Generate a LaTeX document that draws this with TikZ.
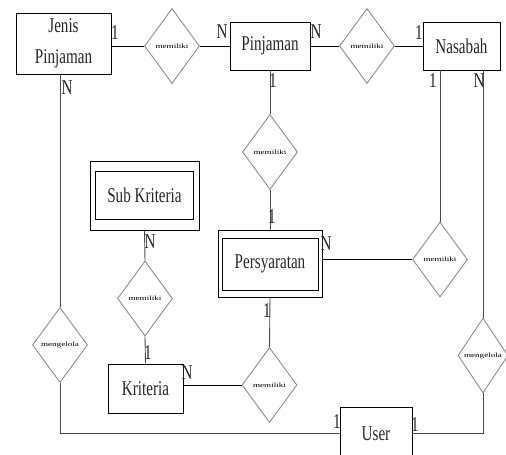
\documentclass[tikz,border=0pt]{standalone}
\usepackage{fontspec}
\usetikzlibrary{shapes.geometric}
\newfontfamily\erfont[FakeStretch=0.72]{Liberation Serif}
\newfontfamily\relfont[FakeStretch=1.4]{Liberation Serif}
\begin{document}
\begin{tikzpicture}[x=1pt,y=-1pt,
  entity/.style={draw=black,line width=0.9pt,fill=white,minimum width=#1,inner sep=0pt,
    font=\erfont\fontsize{21}{31}\selectfont,align=center,text=black!85},
  weak/.style={draw=black,line width=0.9pt,inner sep=0pt,minimum width=#1,
    font=\erfont\fontsize{21}{31}\selectfont,text=black!85},
  rel/.style={diamond,draw=black!45,line width=0.9pt,fill=white,inner sep=0pt,
    minimum width=55pt,minimum height=75pt,aspect=0.73,
    font=\relfont\fontsize{6.5}{7}\selectfont},
  link/.style={draw=black!70,line width=0.9pt},
  card/.style={font=\erfont\fontsize{21}{21}\selectfont,inner sep=0pt,text=black!85}]
\useasboundingbox (0,0) rectangle (506,455);

% entities
\node[entity=95pt,minimum height=61pt] (jp) at (63.5,43.5) {Jenis\\Pinjaman};
\node[entity=80pt,minimum height=48pt] (pj) at (270,46) {Pinjaman};
\node[entity=77pt,minimum height=48pt] (ns) at (461.5,46) {Nasabah};
\node[entity=75pt,minimum height=49pt] (kr) at (145.5,388.5) {Kriteria};
\node[entity=72pt,minimum height=53pt] (us) at (376,433.5) {User};

% weak entities (double frame)
\node[weak=96pt,minimum height=52pt] (psin) at (270,264) {Persyaratan};
\node[draw=black,line width=0.9pt,minimum width=104pt,minimum height=67pt,inner sep=0pt] (ps) at (270,263.5) {};
\node[weak=98pt,minimum height=48pt] (skin) at (144.5,195) {Sub Kriteria};
\node[draw=black,line width=0.9pt,minimum width=109pt,minimum height=69pt,inner sep=0pt] (sk) at (144.5,195.5) {};

% relationships
\node[rel] (d1) at (172,46) {memiliki};
\node[rel] (d2) at (367,46) {memiliki};
\node[rel] (d3) at (270,152) {memiliki};
\node[rel] (d4) at (440,259.5) {memiliki};
\node[rel,minimum width=50pt] (d5) at (483,355.5) {mengelola};
\node[rel] (d6) at (60,345) {mengelola};
\node[rel] (d7) at (145,298.5) {memiliki};
\node[rel] (d8) at (269.5,385) {memiliki};

% connectors
\draw[link,draw=black] (jp.east |- d1.west) -- (d1.west);
\draw[link,draw=black] (d1.east) -- (pj.west);
\draw[link,draw=black] (pj.east) -- (d2.west);
\draw[link,draw=black] (d2.east) -- (ns.west);
\draw[link] (pj.south) -- (d3.north);
\draw[link] (d3.south) -- (ps.north);
\draw[link] (d4.north |- ns.south) -- (d4.north);
\draw[link,draw=black] (ps.east |- d4.west) -- (d4.west);
\draw[link] (d5.north |- ns.south) -- (d5.north);
\draw[link] (d5.south) |- (us.east);
\draw[link] (d6.north |- jp.south) -- (d6.north);
\draw[link] (d6.south) |- (us.west);
\draw[link] (sk.south) -- (d7.north);
\draw[link] (d7.south) -- (kr.north);
\draw[link,draw=black] (kr.east |- d8.west) -- (d8.west);
\draw[link] (ps.south) -- (d8.north);

% cardinalities
\node[card] (c1) at (115,33) {1};
\node[card] (c2) at (222,32) {N};
\node[card] (c3) at (316,32) {N};
\node[card] (c4) at (419,33) {1};
\node[card] (c5) at (67,88) {N};
\node[card] (c6) at (273,81) {1};
\node[card] (c7) at (433,81) {1};
\node[card] (c8) at (479,81) {N};
\node[card] (c9) at (272,217) {1};
\node[card] (c10) at (326,244) {N};
\node[card] (c11) at (150,242) {N};
\node[card] (c12) at (148,353) {1};
\node[card] (c13) at (187,373) {N};
\node[card] (c14) at (267,311) {1};
\node[card] (c15) at (337,422) {1};
\node[card] (c16) at (415,425) {1};
\end{tikzpicture}
\end{document}
